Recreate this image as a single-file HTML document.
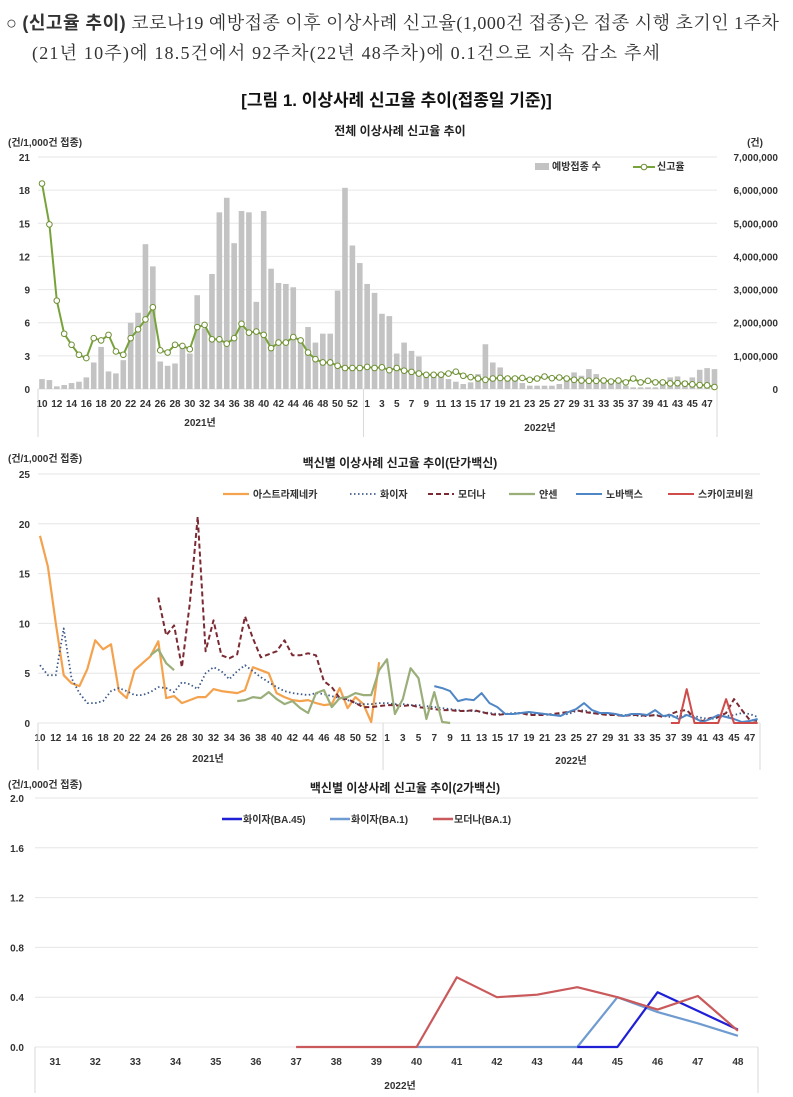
<!DOCTYPE html>
<html><head><meta charset="utf-8"><style>
html,body{margin:0;padding:0;background:#fff;}
body{width:793px;height:1097px;overflow:hidden;position:relative;font-family:"Liberation Serif","Noto Serif CJK SC",serif;}
.hdr{position:absolute;left:6px;font-size:18px;color:#333;white-space:nowrap;letter-spacing:0.9px;}
svg text{font-family:"Liberation Sans","Noto Sans CJK KR",sans-serif;}
</style></head><body>
<div class="hdr" style="top:9px;letter-spacing:0.5px">○ <b style="font-family:'Liberation Sans','Noto Sans CJK KR',sans-serif">(신고율 추이)</b> 코로나19 예방접종 이후 이상사례 신고율(1,000건 접종)은 접종 시행 초기인 1주차</div>
<div class="hdr" style="top:39px;left:32px;letter-spacing:1.2px">(21년 10주)에 18.5건에서 92주차(22년 48주차)에 0.1건으로 지속 감소 추세</div>
<div class="hdr" style="top:86px;left:0;width:793px;text-align:center;font-weight:bold;font-family:'Liberation Sans','Noto Sans CJK KR',sans-serif;font-size:17px;color:#111;letter-spacing:0">[그림 1. 이상사례 신고율 추이(접종일 기준)]</div>
<svg id="s" width="793" height="1097" style="position:absolute;left:0;top:0"></svg>
<script>
// ---------- Chart 1 data ----------
const weeks2021 = [10,11,12,13,14,15,16,17,18,19,20,21,22,23,24,25,26,27,28,29,30,31,32,33,34,35,36,37,38,39,40,41,42,43,44,45,46,47,48,49,50,51,52,53];
const weeks2022 = [1,2,3,4,5,6,7,8,9,10,11,12,13,14,15,16,17,18,19,20,21,22,23,24,25,26,27,28,29,30,31,32,33,34,35,36,37,38,39,40,41,42,43,44,45,46,47,48];
// vaccinations in millions
const vaccinations = [0.3,0.27,0.08,0.12,0.18,0.22,0.35,0.8,1.27,0.53,0.47,0.87,2.0,2.3,4.37,3.7,0.83,0.7,0.77,1.23,1.07,2.83,1.83,3.47,5.33,5.77,4.4,5.37,5.33,2.63,5.37,3.63,3.2,3.17,3.07,1.43,1.87,1.4,1.67,1.67,2.97,6.07,4.33,3.8,3.17,2.9,2.27,2.2,
1.07,1.4,1.15,0.98,0.4,0.4,0.4,0.3,0.22,0.15,0.2,0.45,1.35,0.8,0.65,0.35,0.3,0.18,0.1,0.1,0.1,0.1,0.15,0.3,0.5,0.4,0.6,0.45,0.3,0.25,0.2,0.1,0.05,0.05,0.05,0.05,0.25,0.35,0.38,0.25,0.35,0.58,0.63,0.6];
const reportRate = [18.6,14.9,8.0,5.0,4.0,3.1,2.8,4.6,4.4,4.9,3.4,3.1,4.6,5.4,6.3,7.4,3.5,3.3,4.0,3.9,3.6,5.6,5.8,4.5,4.5,4.1,4.6,5.9,5.1,5.2,4.9,3.7,4.2,4.2,4.7,4.4,3.3,2.7,2.4,2.4,2.1,1.9,1.9,1.9,2.0,1.9,
1.96,1.7,1.9,1.66,1.55,1.4,1.28,1.28,1.3,1.4,1.57,1.2,1.07,0.95,0.83,0.95,1.0,0.95,0.95,1.0,0.83,0.95,1.13,0.98,1.04,0.95,0.83,0.77,0.74,0.74,0.77,0.68,0.77,0.6,0.95,0.6,0.74,0.6,0.6,0.5,0.53,0.48,0.42,0.36,0.33,0.18];
const leftTicks1 = [0,3,6,9,12,15,18,21];
const rightTicks1 = ["0","1,000,000","2,000,000","3,000,000","4,000,000","5,000,000","6,000,000","7,000,000"];

// ---------- Chart 2 data (start index, values) ----------
const azStart = 0;
const azRate = [18.8,15.7,10.0,4.8,4.0,3.7,5.4,8.3,7.4,7.9,3.2,2.5,5.3,6.0,6.7,8.2,2.5,2.7,2.0,2.3,2.6,2.6,3.4,3.2,3.1,3.0,3.3,5.6,5.3,5.0,3.0,2.6,2.3,2.2,2.3,2.0,1.8,1.9,3.5,1.5,2.6,1.9,0.1,6.1];
const pfStart = 0;
const pfRate = [5.8,4.8,4.8,9.5,4.5,3.0,2.0,2.0,2.2,3.2,3.5,3.2,2.8,2.8,3.1,3.6,3.5,3.1,4.1,3.9,3.4,5.0,5.6,5.2,4.4,5.2,5.8,5.2,4.6,4.1,3.6,3.2,3.0,2.9,2.8,3.0,2.9,2.7,2.5,2.3,2.0,1.9,1.9,2.0,
2.0,1.9,1.9,1.8,1.8,1.7,1.6,1.5,1.4,1.3,1.2,1.2,1.1,1.0,0.9,0.9,1.0,1.0,0.9,0.9,0.9,0.8,0.8,0.9,1.2,1.3,1.0,0.9,0.9,0.8,0.8,0.8,0.7,0.7,0.8,0.7,0.6,0.7,0.8,0.7,0.5,0.4,0.5,0.7,0.8,1.0,0.9,0.6];
const mdStart = 15;
const mdRate = [12.6,8.8,9.8,5.6,12.0,20.7,7.2,10.3,6.8,6.5,6.9,10.7,8.5,6.6,6.9,7.2,8.3,6.8,6.8,7.0,6.8,4.2,3.6,2.5,2.4,2.0,1.6,1.6,1.7,1.8,
1.8,1.7,1.8,1.6,1.5,1.4,1.3,1.3,1.2,1.2,1.3,1.1,0.9,0.8,0.9,0.9,1.0,0.8,0.8,0.8,0.9,1.0,1.1,1.3,1.1,1.0,0.9,0.8,0.8,0.7,0.8,0.8,0.7,0.8,0.6,0.9,1.2,1.3,0.5,0.2,0.5,0.6,1.0,2.4,1.3,0.3,0.2];
const jsAStart = 14;
const jsARate = [6.8,7.4,6.0,5.3];
const jsBStart = 25;
const jsBRate = [2.2,2.3,2.6,2.5,3.1,2.4,1.9,2.2,1.5,1.0,3.0,3.3,1.6,2.5,2.6,3.0,2.8,2.8,5.3,6.4,0.9,2.4,5.5,4.5,0.4,3.1,0.1,0];
const nvStart = 50;
const nvRate = [3.7,3.5,3.2,2.2,2.4,2.3,3.0,2.0,1.6,0.9,0.9,1.0,1.1,1.0,0.9,0.8,0.7,1.1,1.4,2.0,1.3,1.0,1.0,0.9,0.7,0.9,0.9,0.8,1.3,0.7,0.8,0.4,0.8,0.5,0.1,0.4,0.8,0.6,0.4,0.1,0.2,0.4];
const skStart = 80;
const skRate = [0,0,3.4,0,0,0,0,2.4,0,0,0,0];
const leftTicks2 = [0,5,10,15,20,25];

// ---------- Chart 3 data ----------
const weeks3 = [31,32,33,34,35,36,37,38,39,40,41,42,43,44,45,46,47,48];
const pfBA45 = [null,null,null,null,null,null,null,null,null,null,null,null,null,0,0,0.44,0.29,0.14];
const pfBA1 = [null,null,null,null,null,null,null,null,null,0,0,0,0,0,0.40,0.28,0.19,0.09];
const mdBA1 = [null,null,null,null,null,null,0,0,0,0,0.56,0.40,0.42,0.48,0.40,0.30,0.41,0.13];
const leftTicks3 = [0,0.4,0.8,1.2,1.6,2.0];

const NS='http://www.w3.org/2000/svg';
const svg=document.getElementById('s');
function el(tag,attrs,parent){const e=document.createElementNS(NS,tag);for(const k in attrs)e.setAttribute(k,attrs[k]);(parent||svg).appendChild(e);return e;}
function txt(x,y,s,size,anchor,color,weight,parent){const t=el('text',{x:x,y:y,'font-size':size,'text-anchor':anchor||'start',fill:color||'#333','font-weight':weight||'bold'},parent);t.textContent=s;return t;}
function linePath(vals,start,xf,yf){let d='';let pen=false;vals.forEach((v,k)=>{if(v===null||v===undefined){pen=false;return;}const x=xf(start+k),y=yf(v);d+=(pen?'L':'M')+x.toFixed(1)+' '+y.toFixed(1);pen=true;});return d;}

// ===== Chart 1 =====
const g1=el('g',{});


const X1L=38,X1R=717,Y1B=389,Y1T=157;
const x1=i=>42+i*7.39;
const y1=v=>Y1B-v*(Y1B-Y1T)/21;
const yv=m=>y1(m*3);
leftTicks1.forEach((t,k)=>{
  const gl=el('line',{x1:X1L,x2:X1R,y1:y1(t),y2:y1(t),stroke:'#e6e6e6','stroke-width':1},g1);
  
  
  const tl=txt(30,y1(t)+4,String(t),10,'end','#333','bold',g1);
  
  
  const tr=txt(778,y1(t)+4,rightTicks1[k],10,'end','#333','bold',g1);
  
  
});
vaccinations.forEach((m,i)=>{
  const b=el('rect',{x:x1(i)-2.8,y:yv(m),width:5.6,height:Y1B-yv(m),fill:'#c3c3c3'},g1);
  
  
});
const p1=el('path',{d:linePath(reportRate,0,x1,y1),fill:'none',stroke:'#78a33a','stroke-width':2},g1);


reportRate.forEach((v,i)=>{
  const c=el('circle',{cx:x1(i),cy:y1(v),r:2.8,fill:'#fff',stroke:'#6e8f35','stroke-width':1},g1);
  
  
});
weeks2021.concat(weeks2022).forEach((w,i)=>{
  if(i%2) return;
  const t=txt(x1(i),407,String(w),10,'middle','#333','bold',g1);
  
  
});
[[X1L],[x1(43.5)],[X1R]].forEach(a=>{const s=el('line',{x1:a[0],x2:a[0],y1:Y1B,y2:437,stroke:'#d9d9d9'},g1);});
let t;
t=txt(200,426,'2021년',10,'middle','#333','bold',g1);
t=txt(540,431,'2022년',10,'middle','#333','bold',g1);
t=txt(400,135,'전체 이상사례 신고율 추이',12,'middle','#222','bold',g1);
t=txt(8,146,'(건/1,000건 접종)',10,'start','#333','bold',g1);
t=txt(755,146,'(건)',10,'middle','#333','bold',g1);
let lg=el('g',{},g1);
el('rect',{x:535,y:163,width:14,height:7,fill:'#c3c3c3'},lg);txt(552,170,'예방접종 수',10,'start','#333','bold',lg);
lg=el('g',{},g1);
el('line',{x1:633,x2:655,y1:167,y2:167,stroke:'#78a33a','stroke-width':2},lg);el('circle',{cx:644,cy:167,r:2.8,fill:'#fff',stroke:'#6e8f35'},lg);txt(657,170,'신고율',10,'start','#333','bold',lg);

// ===== Chart 2 =====
const g2=el('g',{});


const X2L=38,X2R=760,Y2B=723,Y2T=474;
const x2=i=>40+i*7.886;
const y2=v=>Y2B-v*(Y2B-Y2T)/25;
leftTicks2.forEach(tk=>{
  const gl=el('line',{x1:X2L,x2:X2R,y1:y2(tk),y2:y2(tk),stroke:'#e6e6e6'},g2);
  
  
  const tl=txt(30,y2(tk)+4,String(tk),10,'end','#333','bold',g2);
  
  
});
const series2=[
 ['astrazeneca-line',azRate,azStart,'#f4a24d','',2.2],
 ['pfizer-line',pfRate,pfStart,'#3d5a8a','1.5 2.5',1.8],
 ['moderna-line',mdRate,mdStart,'#7b2a32','5 3',2],
 ['janssen-line-a',jsARate,jsAStart,'#9aae7a','',2.2],
 ['janssen-line-b',jsBRate,jsBStart,'#9aae7a','',2.2],
 ['novavax-line',nvRate,nvStart,'#4f86c6','',2],
 ['skycovione-line',skRate,skStart,'#cf4c4c','',2]
];
series2.forEach(s=>{
  const p=el('path',{d:linePath(s[1],s[2],x2,y2),fill:'none',stroke:s[3],'stroke-width':s[5],'stroke-dasharray':s[4]||'none','stroke-linejoin':'round'},g2);
  
  
});
weeks2021.concat(weeks2022).forEach((w,i)=>{
  if(i%2) return;
  const tl=txt(x2(i),741,String(w),10,'middle','#333','bold',g2);
  
  
});
[X2L,x2(43.5),X2R].forEach(xx=>{const s=el('line',{x1:xx,x2:xx,y1:Y2B,y2:770,stroke:'#d9d9d9'},g2);});
t=txt(208,762,'2021년',10,'middle','#333','bold',g2);
t=txt(571,764,'2022년',10,'middle','#333','bold',g2);
t=txt(400,467,'백신별 이상사례 신고율 추이(단가백신)',12,'middle','#222','bold',g2);
t=txt(8,462,'(건/1,000건 접종)',10,'start','#333','bold',g2);
const leg2=[['legend-astrazeneca',223,'아스트라제네카','#f4a24d','',2.2],['legend-pfizer',350,'화이자','#3d5a8a','1.5 2.5',1.8],['legend-moderna',428,'모더나','#7b2a32','5 3',2],['legend-janssen',509,'얀센','#9aae7a','',2.2],['legend-novavax',576,'노바백스','#4f86c6','',2],['legend-skycovione',668,'스카이코비원','#cf4c4c','',2]];
leg2.forEach(l=>{
  const g=el('g',{},g2);
  
  
  el('line',{x1:l[1],x2:l[1]+26,y1:494,y2:494,stroke:l[3],'stroke-width':l[5],'stroke-dasharray':l[4]||'none'},g);
  txt(l[1]+30,498,l[2],10,'start','#333','bold',g);
});

// ===== Chart 3 =====
const g3=el('g',{});


const X3L=35,X3R=758,Y3B=1047,Y3T=798;
const band=(X3R-X3L)/weeks3.length;
const x3=i=>X3L+band*(i+0.5);
const y3=v=>Y3B-v*(Y3B-Y3T)/2.0;
leftTicks3.forEach(tk=>{
  const gl=el('line',{x1:X3L,x2:X3R,y1:y3(tk),y2:y3(tk),stroke:'#e6e6e6'},g3);
  
  
  const tl=txt(24,y3(tk)+4,tk.toFixed(1),10,'end','#333','bold',g3);
  
  
});
[['pfizer-ba1-line',pfBA1,'#6f9bd0'],['pfizer-ba45-line',pfBA45,'#1f1fd6'],['moderna-ba1-line',mdBA1,'#c9595b']].forEach(s=>{
  const p=el('path',{d:linePath(s[1],0,x3,y3),fill:'none',stroke:s[2],'stroke-width':2.2,'stroke-linejoin':'round'},g3);
  
  
});
weeks3.forEach((w,i)=>{
  const tl=txt(x3(i),1065,String(w),10,'middle','#333','bold',g3);
  
  
});
[X3L,X3R].forEach(xx=>{const s=el('line',{x1:xx,x2:xx,y1:Y3B,y2:1093,stroke:'#d9d9d9'},g3);});
t=txt(400,1089,'2022년',10,'middle','#333','bold',g3);
t=txt(405,792,'백신별 이상사례 신고율 추이(2가백신)',12,'middle','#222','bold',g3);
t=txt(8,788,'(건/1,000건 접종)',10,'start','#333','bold',g3);
const leg3=[['legend-pfizer-ba45',222,'화이자(BA.45)','#1f1fd6'],['legend-pfizer-ba1',330,'화이자(BA.1)','#6f9bd0'],['legend-moderna-ba1',433,'모더나(BA.1)','#c9595b']];
leg3.forEach(l=>{
  const g=el('g',{},g3);
  
  
  el('line',{x1:l[1],x2:l[1]+20,y1:819,y2:819,stroke:l[3],'stroke-width':2.5},g);
  txt(l[1]+21,823,l[2],10,'start','#333','bold',g);
});
</script>
</body></html>
